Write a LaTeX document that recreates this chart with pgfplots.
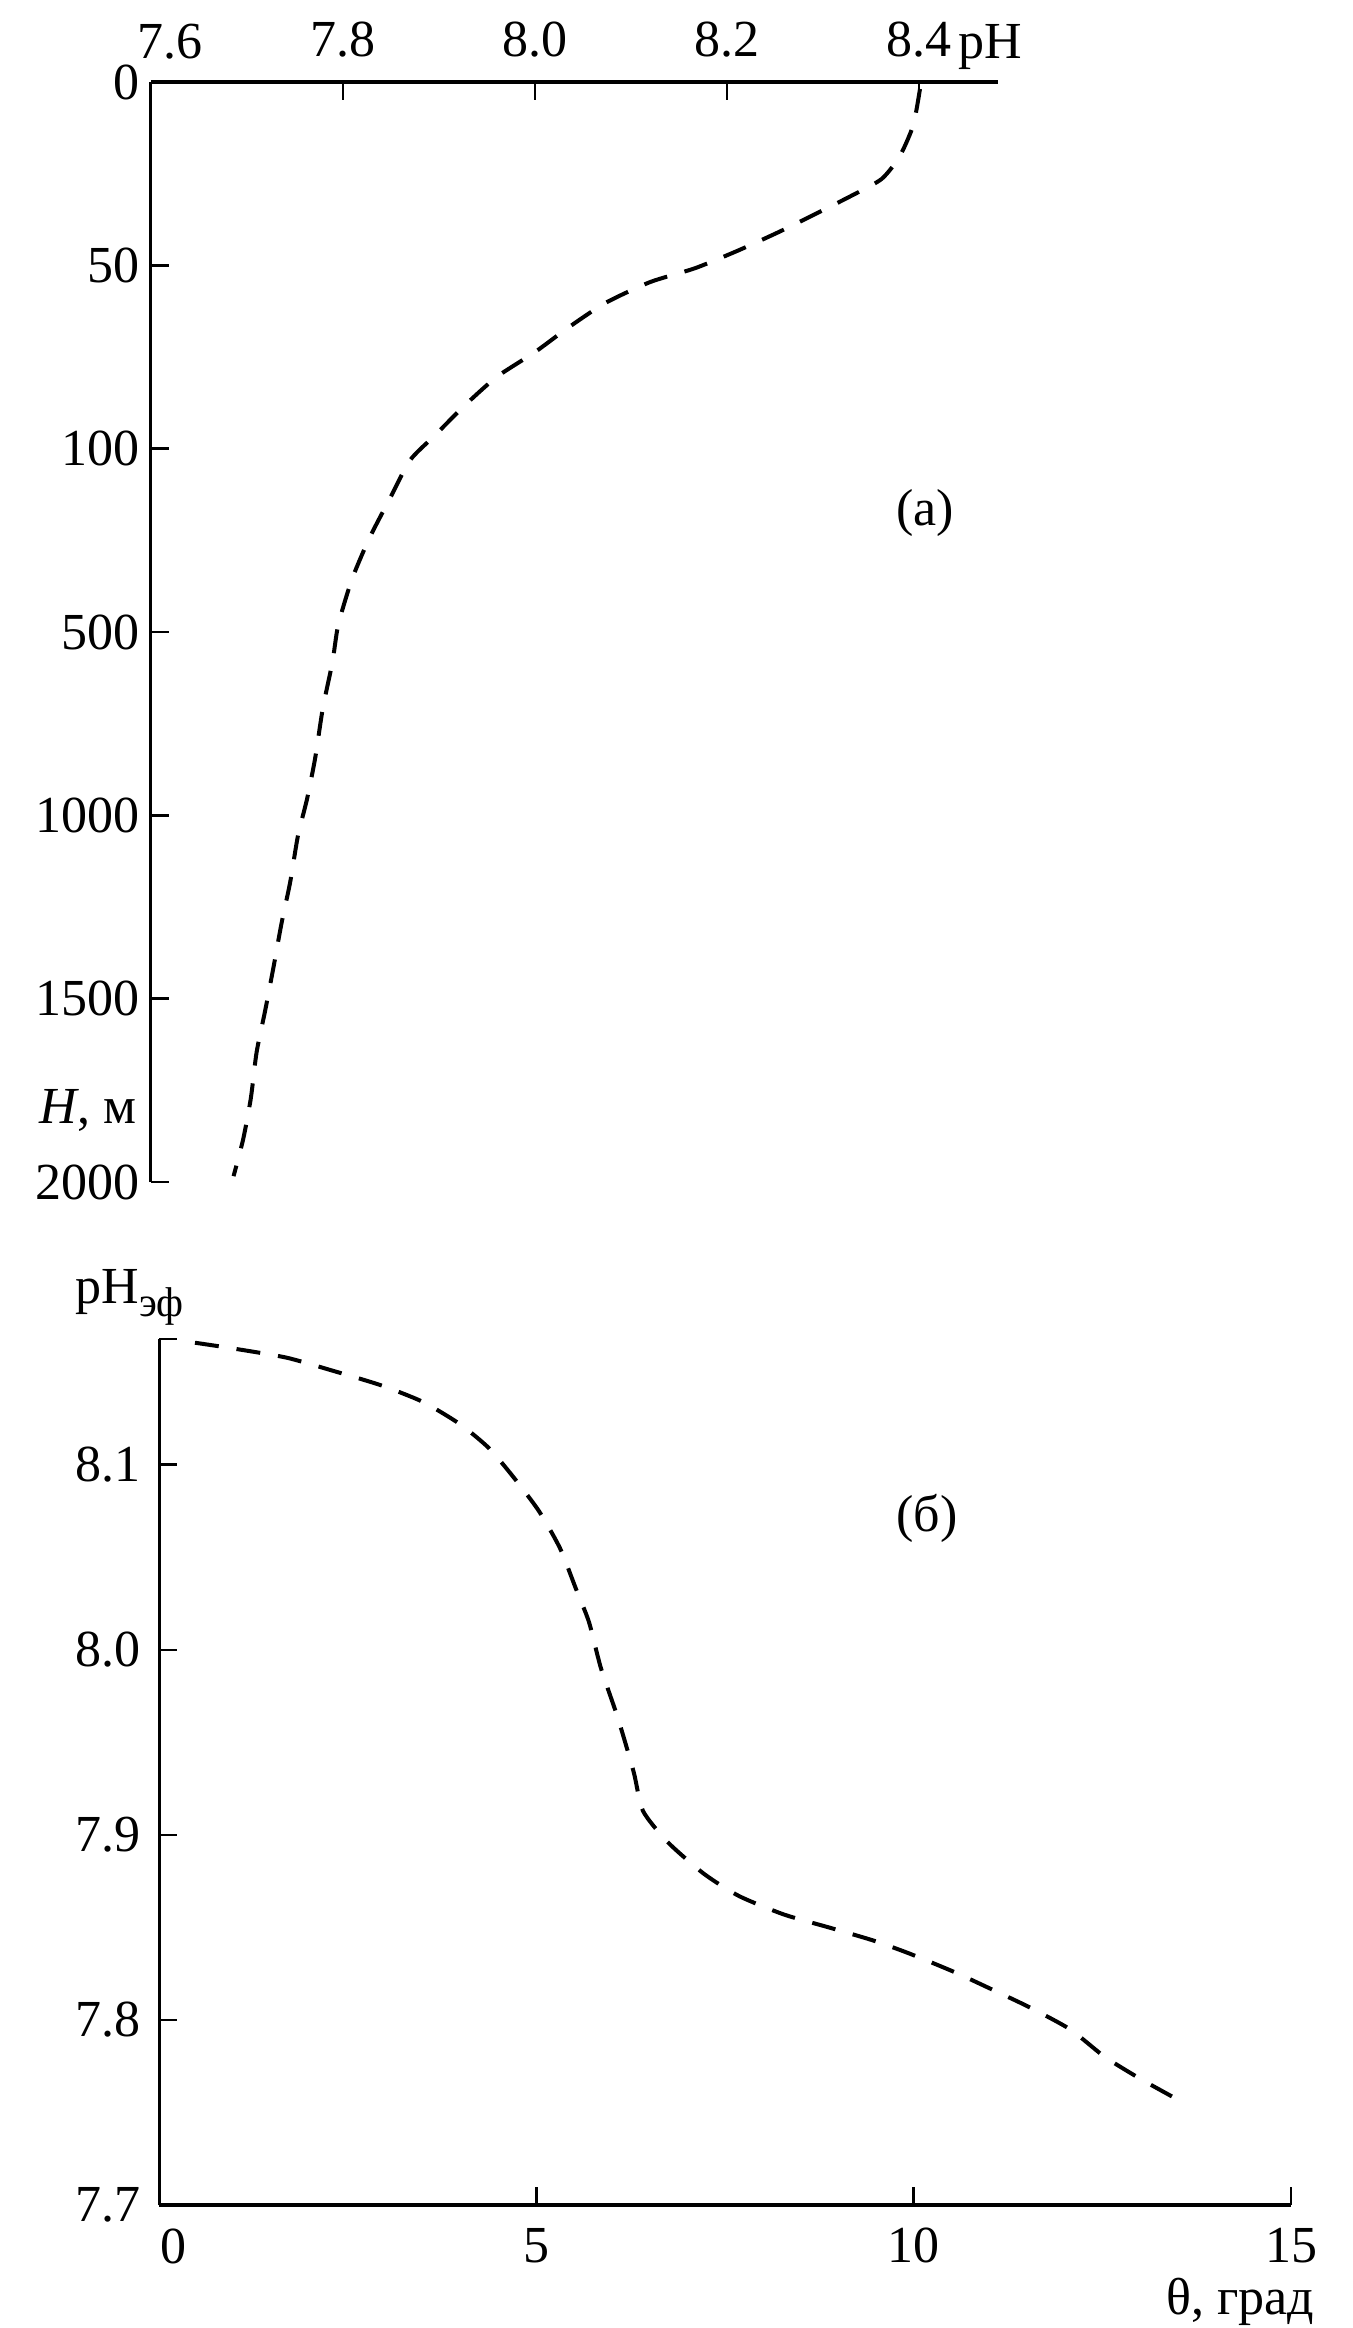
\documentclass[border=0pt]{standalone}
\usepackage{pgfplots}
\pgfplotsset{compat=1.18}
\usepackage{fontspec}
\setmainfont{Liberation Serif}
\begin{document}
\fontsize{13pt}{15.6pt}\selectfont
\begin{tikzpicture}[font=\fontsize{13pt}{15.6pt}\selectfont]
\path[use as bounding box] (0,0) rectangle (338pt,-582pt);
% (a) pH vs depth H; depth axis has equally spaced ticks 0,50,100,500,1000,1500,2000 at positions 0..-6
\begin{axis}[
  at={(37.75pt,-295.5pt)}, anchor=south west,
  scale only axis, width=211.75pt, height=275pt,
  xmin=7.6, xmax=8.4823, ymin=-6, ymax=0,
  axis x line=top, axis y line=left,
  axis line style={-},
  x axis line style={line width=0.9pt},
  y axis line style={line width=0.75pt},
  tick align=inside, major tick length=4.5pt,
  tick style={black, line width=0.7pt},
  xtick={7.6,7.8,8.0,8.2,8.4},
  xticklabels={,7.8,8.0,8.2,8.4},
  ytick={0,-1,-2,-3,-4,-5,-6},
  yticklabels={0,50,100,500,1000,1500,2000},
  xticklabel style={yshift=1.7pt},
  yticklabel style={xshift=1.6pt},
  clip=false,
]
\addplot[black, line width=1pt, dash pattern=on 6pt off 4.5pt, smooth, tension=0.4] coordinates {
(8.401,-0.038) (8.394,-0.235) (8.380,-0.404) (8.361,-0.529) (8.329,-0.622)
(8.292,-0.720) (8.254,-0.818) (8.2125,-0.917) (8.167,-1.015) (8.120,-1.091)
(8.073,-1.206) (8.034,-1.342) (8.000,-1.473) (7.960,-1.609) (7.926,-1.768)
(7.896,-1.926) (7.870,-2.062) (7.849,-2.270) (7.827,-2.493) (7.809,-2.717)
(7.795,-2.962) (7.789,-3.164) (7.779,-3.415) (7.771,-3.688) (7.7625,-3.912)
(7.753,-4.113) (7.745,-4.364) (7.736,-4.588) (7.728,-4.817) (7.719,-5.063)
(7.710,-5.292) (7.704,-5.543) (7.696,-5.767) (7.686,-5.968)
};
\end{axis}
% (b) pH_eff vs theta
\begin{axis}[
  at={(39.75pt,-551.25pt)}, anchor=south west,
  scale only axis, width=283pt, height=216.5pt,
  xmin=0, xmax=15, ymin=7.7, ymax=8.168,
  axis x line=bottom, axis y line=left,
  axis line style={-},
  x axis line style={line width=1.1pt},
  y axis line style={line width=0.75pt},
  tick align=inside, major tick length=4.5pt,
  tick style={black, line width=0.7pt},
  xtick={0,5,10,15},
  xticklabels={,5,10,15},
  ytick={7.7,7.8,7.9,8.0,8.1},
  yticklabels={7.7,7.8,7.9,8.0,8.1},
  extra y ticks={8.168}, extra y tick labels={},
  xticklabel style={yshift=-1.2pt},
  yticklabel style={xshift=0pt},
  clip=false,
]
\addplot[black, line width=1pt, dash pattern=on 6pt off 4.5pt, smooth, tension=0.4] coordinates {
(0.477,8.166) (0.967,8.163) (1.683,8.158) (2.292,8.151) (2.942,8.143)
(3.498,8.134) (3.988,8.122) (4.373,8.109) (4.704,8.093) (5.035,8.075)
(5.313,8.055) (5.525,8.033) (5.698,8.015) (5.857,7.990) (6.082,7.963)
(6.29,7.934) (6.413,7.913) (6.744,7.896) (7.221,7.879) (7.685,7.867)
(8.281,7.857) (8.878,7.850) (9.461,7.843) (9.938,7.836) (10.534,7.826)
(11.064,7.816) (11.528,7.807) (12.071,7.795) (12.535,7.780) (13.012,7.768)
(13.542,7.756)
};
\end{axis}
\node[anchor=base, inner sep=0pt] at (42.5pt,-14.5pt) {7.6};
\node[anchor=base west, inner sep=0pt] at (239.5pt,-14.5pt) {pH};
\node[anchor=base east, inner sep=0pt] at (34.25pt,-280.75pt) {\textit{H}, м};
\node at (231.25pt,-128.25pt) {(а)};
\node at (231.75pt,-379.5pt) {(б)};
\node[anchor=base west, inner sep=0pt] at (18.75pt,-325.75pt) {pH\raisebox{-3.25pt}{\fontsize{10.4pt}{12pt}\selectfont эф}};
\node[anchor=base, inner sep=0pt] at (43.25pt,-565.75pt) {0};
\node[anchor=base east, inner sep=0pt] at (328.75pt,-578.5pt) {θ, град};
\end{tikzpicture}
\end{document}
